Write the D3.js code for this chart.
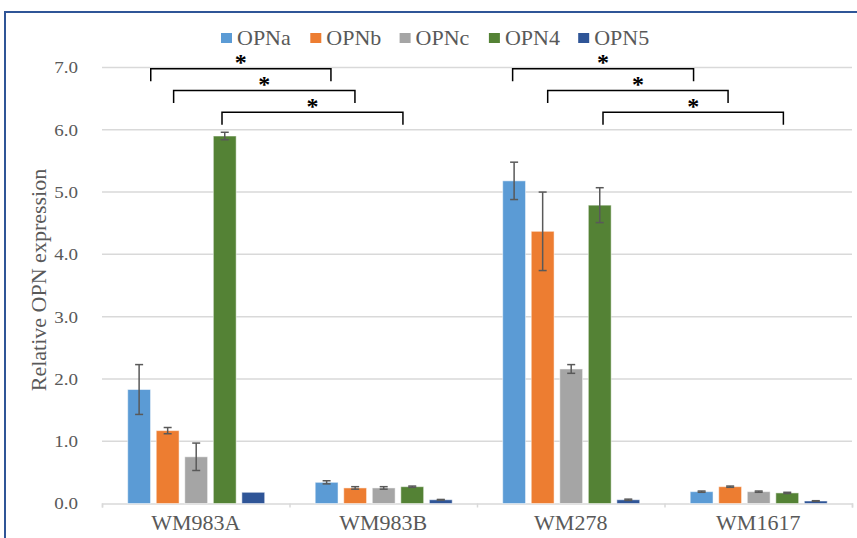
<!DOCTYPE html>
<html>
<head>
    <meta charset="utf-8">
    <script type="text/javascript" src="https://cdn.jsdelivr.net/npm/d3@7/dist/d3.min.js"></script>
    <style>
        body { margin: 0; background: #ffffff; }
        text { font-family: "Liberation Serif", "Times New Roman", serif; fill: #595959; }
    </style>
    <script>
        var categories = ['WM983A', 'WM983B', 'WM278', 'WM1617'];
        var series = ['OPNa', 'OPNb', 'OPNc', 'OPN4', 'OPN5'];
        var colors = ['#5b9bd5', '#ed7d31', '#a5a5a5', '#548235', '#2f5597'];

        // one value list per series, in category order
        var OPNa = [1.83, 0.34, 5.18, 0.19];
        var OPNb = [1.17, 0.25, 4.37, 0.27];
        var OPNc = [0.75, 0.25, 2.16, 0.19];
        var OPN4 = [5.90, 0.27, 4.79, 0.17];
        var OPN5 = [0.18, 0.06, 0.06, 0.04];

        var errOPNa = [0.40, 0.025, 0.30, 0.01];
        var errOPNb = [0.05, 0.02, 0.63, 0.01];
        var errOPNc = [0.22, 0.02, 0.07, 0.01];
        var errOPN4 = [0.06, 0.01, 0.28, 0.01];
        var errOPN5 = [0.00, 0.005, 0.01, 0.005];

        var yTicks = [0, 1, 2, 3, 4, 5, 6, 7];

        // significance brackets: x in category units, y in expression units
        var bracketX0 = [0.26, 0.382, 0.64, 2.19, 2.377, 2.672];
        var bracketX1 = [1.221, 1.349, 1.605, 3.155, 3.339, 3.634];
        var bracketY = [6.98, 6.63, 6.28, 6.98, 6.63, 6.28];
        var bracketDrop = 0.2;

        function init()
        {
            var values = [OPNa, OPNb, OPNc, OPN4, OPN5];
            var errors = [errOPNa, errOPNb, errOPNc, errOPN4, errOPN5];

            var rows = [];
            series.forEach(function(s, i)
            {
                categories.forEach(function(c, j)
                {
                    rows.push({ cat: c, series: s, color: colors[i], value: values[i][j], err: errors[i][j] });
                });
            });

            var svg = d3.select('#chart').append('svg')
                .attr('width', 857)
                .attr('height', 538);

            // outer frame
            svg.append('rect')
                .attr('x', 5).attr('y', 12)
                .attr('width', 900).attr('height', 600)
                .attr('fill', 'none')
                .attr('stroke', '#2f5597')
                .attr('stroke-width', 2);

            var x = d3.scaleBand().domain(categories).range([102, 852]);
            var xs = d3.scaleBand().domain(series).range([25.7, 162.7]).paddingInner(0.2);
            var xLin = d3.scaleLinear().domain([0, categories.length]).range([102, 852]);
            var y = d3.scaleLinear().domain([0, 7]).range([503.5, 67.5]);

            // gridlines
            svg.append('g').selectAll('line').data(yTicks.slice(1)).enter().append('line')
                .attr('x1', 102).attr('x2', 852)
                .attr('y1', function(d) { return y(d); })
                .attr('y2', function(d) { return y(d); })
                .attr('stroke', '#d9d9d9')
                .attr('stroke-width', 1.5);

            // y axis labels
            var yAxis = svg.append('g')
                .attr('transform', 'translate(102,0)')
                .call(d3.axisLeft(y).tickValues(yTicks).tickFormat(d3.format('.1f')).tickSize(0).tickPadding(24));
            yAxis.select('.domain').remove();
            yAxis.selectAll('text')
                .attr('x', 0)
                .attr('transform', 'translate(-24,0) scale(1.12,1)')
                .style('font-size', '17px')
                .style('font-family', '"Liberation Serif", serif')
                .attr('fill', '#595959');

            // x axis
            var xAxis = svg.append('g')
                .attr('transform', 'translate(0,' + y(0) + ')')
                .call(d3.axisBottom(xLin).tickValues([0, 1, 2, 3, 4]).tickSize(4).tickFormat(''));
            xAxis.select('.domain').attr('stroke', '#d9d9d9').attr('stroke-width', 1.5);
            xAxis.selectAll('.tick line').attr('stroke', '#d9d9d9').attr('stroke-width', 1.5);

            svg.append('g').selectAll('text').data(categories).enter().append('text')
                .attr('transform', function(d) { return 'translate(' + (x(d) + x.bandwidth() / 2) + ',530) scale(1.1,1)'; })
                .attr('text-anchor', 'middle')
                .style('font-size', '20px')
                .text(function(d) { return d; });

            // y title
            svg.append('text')
                .attr('transform', 'translate(46,280) rotate(-90)')
                .attr('text-anchor', 'middle')
                .style('font-size', '22px')
                .text('Relative OPN expression');

            // bars
            svg.append('g').selectAll('rect').data(rows).enter().append('rect')
                .attr('x', function(d) { return x(d.cat) + xs(d.series); })
                .attr('y', function(d) { return y(d.value); })
                .attr('width', xs.bandwidth())
                .attr('height', function(d) { return y(0) - y(d.value); })
                .attr('fill', function(d) { return d.color; })
                .attr('stroke', '#ffffff')
                .attr('stroke-opacity', 0.5)
                .attr('stroke-width', 1);

            // error bars
            var eb = svg.append('g').selectAll('g').data(rows.filter(function(d) { return d.err > 0; })).enter().append('g')
                .attr('stroke', '#595959')
                .attr('stroke-width', 1.5);
            eb.append('line')
                .attr('x1', function(d) { return x(d.cat) + xs(d.series) + xs.bandwidth() / 2; })
                .attr('x2', function(d) { return x(d.cat) + xs(d.series) + xs.bandwidth() / 2; })
                .attr('y1', function(d) { return y(d.value - d.err); })
                .attr('y2', function(d) { return y(d.value + d.err); });
            [-1, 1].forEach(function(sgn)
            {
                eb.append('line')
                    .attr('x1', function(d) { return x(d.cat) + xs(d.series) + xs.bandwidth() / 2 - 4; })
                    .attr('x2', function(d) { return x(d.cat) + xs(d.series) + xs.bandwidth() / 2 + 4; })
                    .attr('y1', function(d) { return y(d.value + sgn * d.err); })
                    .attr('y2', function(d) { return y(d.value + sgn * d.err); });
            });

            // significance brackets
            var br = svg.append('g').selectAll('g').data(bracketY).enter().append('g');
            br.append('path')
                .attr('fill', 'none')
                .attr('stroke', '#000000')
                .attr('stroke-width', 1.5)
                .attr('d', function(d, i)
                {
                    var x0 = xLin(bracketX0[i]), x1 = xLin(bracketX1[i]);
                    return 'M' + x0 + ',' + y(d - bracketDrop) + 'V' + y(d) + 'H' + x1 + 'V' + y(d - bracketDrop);
                });
            br.append('text')
                .attr('x', function(d, i) { return (xLin(bracketX0[i]) + xLin(bracketX1[i])) / 2; })
                .attr('y', function(d) { return y(d) + 1.5; })
                .attr('text-anchor', 'middle')
                .style('font-size', '24px')
                .style('font-weight', 'bold')
                .style('fill', '#000000')
                .text('*');

            // legend
            var lg = svg.append('g').selectAll('g').data(series).enter().append('g')
                .attr('transform', function(d, i) { return 'translate(' + (221 + i * 89.3) + ',0)'; });
            lg.append('rect')
                .attr('x', 0).attr('y', 33)
                .attr('width', 11).attr('height', 10)
                .attr('fill', function(d, i) { return colors[i]; });
            lg.append('text')
                .attr('transform', 'translate(16,45) scale(1.1,1)')
                .style('font-size', '20px')
                .text(function(d) { return d; });
        }
        window.addEventListener('load', init, false);
    </script>
</head>
<body>
    <div id="chart"></div>
</body>
</html>
